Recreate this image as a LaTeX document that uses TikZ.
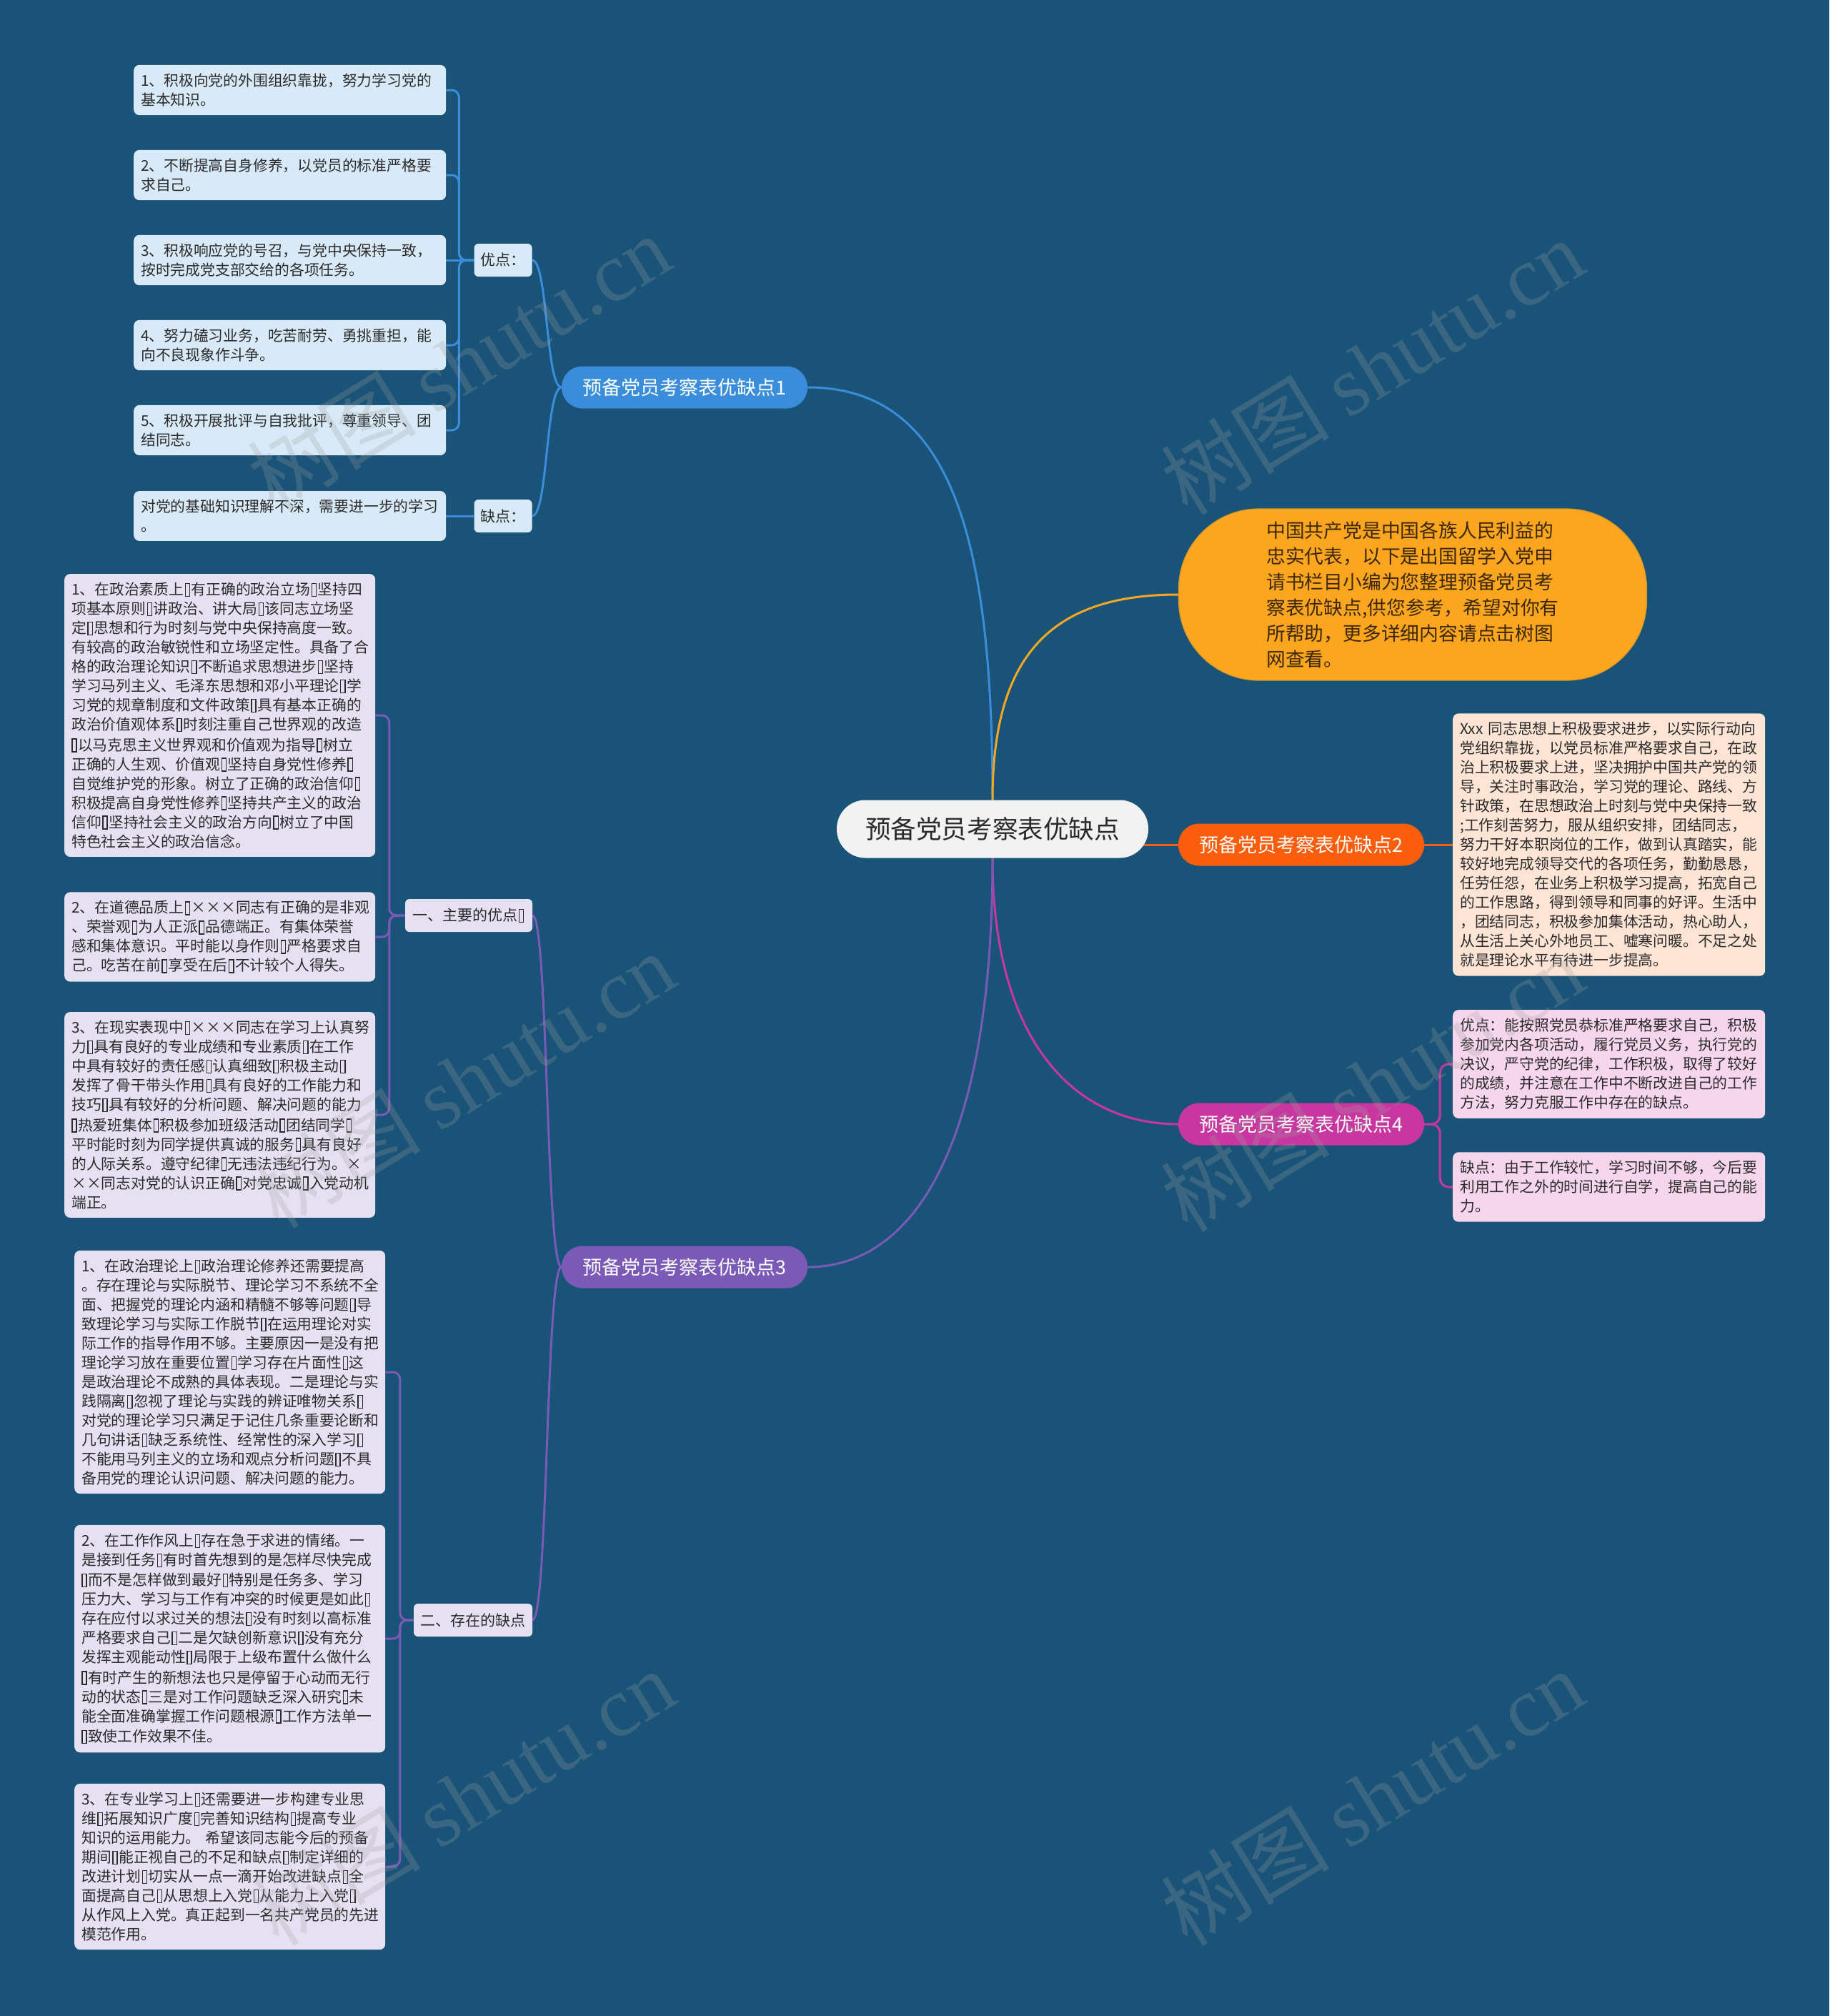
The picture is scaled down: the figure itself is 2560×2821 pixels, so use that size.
\documentclass[tikz,border=0pt]{standalone}
\usepackage{fontspec}
\setmainfont{Noto Sans CJK SC}
\newfontfamily\wmserif{Liberation Serif}
\usetikzlibrary{calc}
\definecolor{bgc}{HTML}{1A5378}
\definecolor{rootfill}{HTML}{F2F2F2}
\definecolor{txtdark}{HTML}{2B2B2B}
\definecolor{cblue}{HTML}{3A8DDB}
\definecolor{corange}{HTML}{F5A623}
\definecolor{cintro}{HTML}{FBA61E}
\definecolor{cred}{HTML}{FA5E0C}
\definecolor{cmag}{HTML}{C8379F}
\definecolor{cpur}{HTML}{7B59B6}
\definecolor{lblue}{HTML}{D8EAF8}
\definecolor{lpeach}{HTML}{FDE4D5}
\definecolor{lpink}{HTML}{F6D6EC}
\definecolor{llav}{HTML}{E6E1F2}
\definecolor{wmc}{HTML}{A0A0A0}
\pgfdeclarelayer{background}
\pgfdeclarelayer{links}
\pgfdeclarelayer{marks}
\pgfsetlayers{background,links,main,marks}
\newcommand\tofu{\kern0.07em\begingroup\setlength\fboxsep{0pt}\setlength\fboxrule{0.065em}\raisebox{-0.06em}{\fbox{\rule{0pt}{0.8em}\rule{0.23em}{0pt}}}\endgroup\kern0.07em}
\tikzset{
  leafbase/.style={rectangle, rounded corners=8pt, inner xsep=10pt, inner ysep=12pt, align=left, font=\fontsize{20.8}{27}\selectfont, text=txtdark, anchor=west},
  leafA/.style={leafbase, fill=lblue, text width=417pt},
  leafB/.style={leafbase, fill=lpeach, text width=417pt},
  leafC/.style={leafbase, fill=lpink, text width=417pt},
  leafD/.style={leafbase, fill=llav, text width=415pt},
  subbox/.style={rectangle, rounded corners=6pt, inner sep=0pt, minimum height=46pt, font=\fontsize{21}{24}\selectfont, text=txtdark},
  branchbox/.style={rectangle, rounded corners=29pt, inner sep=0pt, minimum width=344pt, minimum height=59pt, font=\fontsize{27}{30}\selectfont, text=white},
  conn/.style={line width=3pt},
  wm/.style={text=wmc, text opacity=0.25, font=\fontsize{118}{120}\selectfont, rotate=31.5, inner sep=0pt}
}
\begin{document}
\begin{tikzpicture}[x=1pt,y=-1pt]
\begin{pgfonlayer}{background}
\fill[bgc] (0,0) rectangle (2560,2821);
\end{pgfonlayer}
\useasboundingbox (0,0) rectangle (2560,2821);

% root
\node[rectangle, rounded corners=40pt, fill=rootfill, minimum width=436pt, minimum height=81pt, inner sep=0pt, font=\fontsize{35.6}{40}\selectfont, text=txtdark] (root) at (1389,1160) {预备党员考察表优缺点};

% intro
\node[rectangle, rounded corners=112pt, fill=cintro, draw={rgb,255:red,215;green,150;blue,40}, line width=1.2pt, minimum width=655pt, minimum height=240pt, inner sep=0pt, align=left, font=\fontsize{26.8}{36}\selectfont, text={rgb,255:red,60;green,40;blue,10}] (intro) at (1977,832) {中国共产党是中国各族人民利益的\\忠实代表，以下是出国留学入党申\\请书栏目小编为您整理预备党员考\\察表优缺点,供您参考，希望对你有\\所帮助，更多详细内容请点击树图\\网查看。};

% branches
\node[branchbox, fill=cblue] (b1) at (958,542) {预备党员考察表优缺点1};
\node[branchbox, fill=cred] (b2) at (1821,1182) {预备党员考察表优缺点2};
\node[branchbox, fill=cmag] (b4) at (1821,1573) {预备党员考察表优缺点4};
\node[branchbox, fill=cpur] (b3) at (958,1773) {预备党员考察表优缺点3};

% branch 1
\node[subbox, fill=lblue, minimum width=81pt] (opt) at (704,364) {优点：};
\node[subbox, fill=lblue, minimum width=81pt] (def) at (704,722) {缺点：};
\node[leafA] (a1) at (187,126) {1、积极向党的外围组织靠拢，努力学习党的\\基本知识。};
\node[leafA] (a2) at (187,245) {2、不断提高自身修养，以党员的标准严格要\\求自己。};
\node[leafA] (a3) at (187,364) {3、积极响应党的号召，与党中央保持一致，\\按时完成党支部交给的各项任务。};
\node[leafA] (a4) at (187,483) {4、努力磕习业务，吃苦耐劳、勇挑重担，能\\向不良现象作斗争。};
\node[leafA] (a5) at (187,602) {5、积极开展批评与自我批评，尊重领导、团\\结同志。};
\node[leafA] (a6) at (187,722) {对党的基础知识理解不深，需要进一步的学习\\。};

% branch 2
\node[leafB] (c1) at (2033,1182) {Xxx~同志思想上积极要求进步，以实际行动向\\党组织靠拢，以党员标准严格要求自己，在政\\治上积极要求上进，坚决拥护中国共产党的领\\导，关注时事政治，学习党的理论、路线、方\\针政策，在思想政治上时刻与党中央保持一致\\;工作刻苦努力，服从组织安排，团结同志，\\努力干好本职岗位的工作，做到认真踏实，能\\较好地完成领导交代的各项任务，勤勤恳恳，\\任劳任怨，在业务上积极学习提高，拓宽自己\\的工作思路，得到领导和同事的好评。生活中\\，团结同志，积极参加集体活动，热心助人，\\从生活上关心外地员工、嘘寒问暖。不足之处\\就是理论水平有待进一步提高。};

% branch 4
\node[leafC] (d1) at (2033,1489) {优点：能按照党员恭标准严格要求自己，积极\\参加党内各项活动，履行党员义务，执行党的\\决议，严守党的纪律，工作积极，取得了较好\\的成绩，并注意在工作中不断改进自己的工作\\方法，努力克服工作中存在的缺点。};
\node[leafC] (d2) at (2033,1661) {缺点：由于工作较忙，学习时间不够，今后要\\利用工作之外的时间进行自学，提高自己的能\\力。};

% branch 3
\node[subbox, fill=llav, minimum width=178pt] (s1) at (656,1281) {一、主要的优点\tofu{}};
\node[subbox, fill=llav, minimum width=166pt] (s2) at (662,2267) {二、存在的缺点};
\node[leafD] (e1) at (90,1001) {1、在政治素质上\tofu{}有正确的政治立场\tofu{}坚持四\\项基本原则\tofu{}讲政治、讲大局\tofu{}该同志立场坚\\定\tofu{}思想和行为时刻与党中央保持高度一致。\\有较高的政治敏锐性和立场坚定性。具备了合\\格的政治理论知识\tofu{}不断追求思想进步\tofu{}坚持\\学习马列主义、毛泽东思想和邓小平理论\tofu{}学\\习党的规章制度和文件政策\tofu{}具有基本正确的\\政治价值观体系\tofu{}时刻注重自己世界观的改造\\\tofu{}以马克思主义世界观和价值观为指导\tofu{}树立\\正确的人生观、价值观\tofu{}坚持自身党性修养\tofu{}\\自觉维护党的形象。树立了正确的政治信仰\tofu{}\\积极提高自身党性修养\tofu{}坚持共产主义的政治\\信仰\tofu{}坚持社会主义的政治方向\tofu{}树立了中国\\特色社会主义的政治信念。};
\node[leafD] (e2) at (90,1311) {2、在道德品质上\tofu{}×××同志有正确的是非观\\、荣誉观\tofu{}为人正派\tofu{}品德端正。有集体荣誉\\感和集体意识。平时能以身作则\tofu{}严格要求自\\己。吃苦在前\tofu{}享受在后\tofu{}不计较个人得失。};
\node[leafD] (e3) at (90,1560) {3、在现实表现中\tofu{}×××同志在学习上认真努\\力\tofu{}具有良好的专业成绩和专业素质\tofu{}在工作\\中具有较好的责任感\tofu{}认真细致\tofu{}积极主动\tofu{}\\发挥了骨干带头作用\tofu{}具有良好的工作能力和\\技巧\tofu{}具有较好的分析问题、解决问题的能力\\\tofu{}热爱班集体\tofu{}积极参加班级活动\tofu{}团结同学\tofu{}\\平时能时刻为同学提供真诚的服务\tofu{}具有良好\\的人际关系。遵守纪律\tofu{}无违法违纪行为。×\\××同志对党的认识正确\tofu{}对党忠诚\tofu{}入党动机\\端正。};
\node[leafD] (f1) at (104,1920) {1、在政治理论上\tofu{}政治理论修养还需要提高\\。存在理论与实际脱节、理论学习不系统不全\\面、把握党的理论内涵和精髓不够等问题\tofu{}导\\致理论学习与实际工作脱节\tofu{}在运用理论对实\\际工作的指导作用不够。主要原因一是没有把\\理论学习放在重要位置\tofu{}学习存在片面性\tofu{}这\\是政治理论不成熟的具体表现。二是理论与实\\践隔离\tofu{}忽视了理论与实践的辨证唯物关系\tofu{}\\对党的理论学习只满足于记住几条重要论断和\\几句讲话\tofu{}缺乏系统性、经常性的深入学习\tofu{}\\不能用马列主义的立场和观点分析问题\tofu{}不具\\备用党的理论认识问题、解决问题的能力。};
\node[leafD] (f2) at (104,2293) {2、在工作作风上\tofu{}存在急于求进的情绪。一\\是接到任务\tofu{}有时首先想到的是怎样尽快完成\\\tofu{}而不是怎样做到最好\tofu{}特别是任务多、学习\\压力大、学习与工作有冲突的时候更是如此\tofu{}\\存在应付以求过关的想法\tofu{}没有时刻以高标准\\严格要求自己\tofu{}二是欠缺创新意识\tofu{}没有充分\\发挥主观能动性\tofu{}局限于上级布置什么做什么\\\tofu{}有时产生的新想法也只是停留于心动而无行\\动的状态\tofu{}三是对工作问题缺乏深入研究\tofu{}未\\能全面准确掌握工作问题根源\tofu{}工作方法单一\\\tofu{}致使工作效果不佳。};
\node[leafD] (f3) at (104,2612) {3、在专业学习上\tofu{}还需要进一步构建专业思\\维\tofu{}拓展知识广度\tofu{}完善知识结构\tofu{}提高专业\\知识的运用能力。~希望该同志能今后的预备\\期间\tofu{}能正视自己的不足和缺点\tofu{}制定详细的\\改进计划\tofu{}切实从一点一滴开始改进缺点\tofu{}全\\面提高自己\tofu{}从思想上入党\tofu{}从能力上入党\tofu{}\\从作风上入党。真正起到一名共产党员的先进\\模范作用。};

\begin{pgfonlayer}{links}
% root links
\draw[conn, cblue] (root.north) .. controls +(0,-370) and +(200,0) .. (b1.east);
\draw[conn, corange] (root.north) .. controls +(0,-200) and +(-180,0) .. (intro.west);
\draw[conn, cred] (b2.west -| root.center) -- (b2.west);
\draw[conn, cmag] (root.south) .. controls +(0,250) and +(-150,0) .. (b4.west);
\draw[conn, cpur] (root.south) .. controls +(0,400) and +(150,0) .. (b3.east);
% branch 1
\draw[conn, cblue] (b1.west) .. controls +(-22,0) and +(22,0) .. (opt.east);
\draw[conn, cblue] (b1.west) .. controls +(-22,0) and +(22,0) .. (def.east);
\foreach \n in {a1,a2,a4,a5}{
  \draw[conn, cblue, rounded corners=10pt] (opt.west) -- ++(-21,0) |- (\n.east);
}
\draw[conn, cblue] (opt.west) -- (a3.east);
\draw[conn, cblue] (def.west) -- (a6.east);
% branch 2
\draw[conn, cred] (b2.east) -- (c1.west);
% branch 4
\foreach \n in {d1,d2}{
  \draw[conn, cmag, rounded corners=12pt] (b4.east) -- ++(22,0) |- (\n.west);
}
% branch 3
\draw[conn, cpur] (b3.west) .. controls +(-22,0) and +(22,0) .. (s1.east);
\draw[conn, cpur] (b3.west) .. controls +(-22,0) and +(22,0) .. (s2.east);
\foreach \n in {e1,e2,e3}{
  \draw[conn, cpur, rounded corners=10pt] (s1.west) -- ++(-22,0) |- (\n.east);
}
\foreach \n in {f1,f2,f3}{
  \draw[conn, cpur, rounded corners=10pt] (s2.west) -- ++(-19,0) |- (\n.east);
}
\end{pgfonlayer}

\begin{pgfonlayer}{marks}
\node[wm] (w1) at (642,507) {树图 {\wmserif shutu.cn}};
\node[wm] (w2) at (1920,513) {树图 {\wmserif shutu.cn}};
\node[wm] (w3) at (648,1511) {树图 {\wmserif shutu.cn}};
\node[wm] (w4) at (1920,1516) {树图 {\wmserif shutu.cn}};
\node[wm] (w5) at (648,2515) {树图 {\wmserif shutu.cn}};
\node[wm] (w6) at (1920,2515) {树图 {\wmserif shutu.cn}};
\end{pgfonlayer}
\end{tikzpicture}
\end{document}
